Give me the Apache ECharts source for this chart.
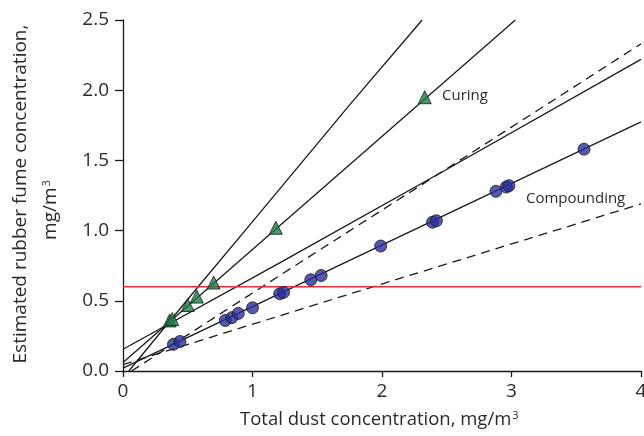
<!DOCTYPE html>
<html>
<head>
    <meta charset="utf-8">
    <title>Rubber fume vs dust</title>
    <script src="https://cdn.jsdelivr.net/npm/echarts@6/dist/echarts.min.js"></script>
    <style>
        html, body { margin: 0; padding: 0; background: #fff; }
        #main { width: 644px; height: 436px; }
    </style>
</head>
<body>
    <div id="main"></div>
    <script type="text/javascript">
        var curingX = [0.36, 0.38, 0.50, 0.57, 0.70, 1.18, 2.33];
        var curingY = [0.36, 0.37, 0.47, 0.53, 0.63, 1.02, 1.95];

        var compX = [0.39, 0.44, 0.79, 0.84, 0.89, 1.00, 1.21, 1.24, 1.45, 1.53, 1.99, 2.39, 2.42, 2.88, 2.96, 2.98, 3.56];
        var compY = [0.19, 0.21, 0.36, 0.38, 0.41, 0.45, 0.55, 0.56, 0.65, 0.68, 0.89, 1.06, 1.07, 1.28, 1.31, 1.32, 1.58];

        // fitted lines and limits, as [x, y] points along each one
        var curingFit = [[0, 0.06], [3.03, 2.5]];
        var curingSteep = [[0.045, 0], [0.58, 0.6], [1.01, 1.075], [1.75, 1.895], [2.31, 2.5]];
        var curingFlat = [[0, 0.155], [1.21, 0.77], [2.45, 1.41], [4, 2.22]];
        var compFit = [[0, 0.02], [4, 1.775]];
        var compUpper = [[0.066, 0], [1.21, 0.68], [2.6, 1.5], [4, 2.33]];
        var compLower = [[0, 0.046], [1.52, 0.482], [1.93, 0.6], [4, 1.19]];

        var limitValue = 0.6;
        var xTicks = [0, 1, 2, 3, 4];
        var yTicks = [0, 0.5, 1.0, 1.5, 2.0, 2.5];

        var font = '"Open Sans", "DejaVu Sans", sans-serif';
        var ink = '#2b2b2b';

        function pairs(xs, ys) {
            return xs.map(function (x, i) { return [x, ys[i]]; });
        }

        function fitLine(data, dashed) {
            return {
                type: 'line',
                data: data,
                showSymbol: false,
                silent: true,
                z: 2,
                lineStyle: { color: '#1a1a1a', width: 1.3, type: dashed ? [9, 6] : 'solid' }
            };
        }

        var myChart = echarts.init(document.getElementById('main'));

        var option = {
            animation: false,
            grid: { left: 123, right: 3, top: 20, bottom: 65, outerBoundsMode: 'none' },
            xAxis: {
                type: 'value',
                min: xTicks[0],
                max: xTicks[xTicks.length - 1],
                interval: 1,
                splitLine: { show: false },
                axisLine: { lineStyle: { color: '#1a1a1a', width: 1.3 } },
                axisTick: { length: 6, lineStyle: { color: '#1a1a1a', width: 1.3 } },
                axisLabel: { color: ink, fontFamily: font, fontSize: 19, margin: 11 }
            },
            yAxis: {
                type: 'value',
                min: yTicks[0],
                max: yTicks[yTicks.length - 1],
                interval: 0.5,
                splitLine: { show: false },
                axisLine: { show: true, lineStyle: { color: '#1a1a1a', width: 1.3 } },
                axisTick: { show: true, length: 8, lineStyle: { color: '#1a1a1a', width: 1.3 } },
                axisLabel: {
                    color: ink, fontFamily: font, fontSize: 19, margin: 14,
                    formatter: function (v) { return v.toFixed(1); }
                }
            },
            graphic: [
                {
                    type: 'text', left: 240, top: 410,
                    style: {
                        text: 'Total dust concentration, mg/m{s|3}',
                        fill: ink, font: '18.5px ' + font,
                        rich: { s: { fontSize: 11, fontFamily: font, fill: ink, verticalAlign: 'top', padding: [0, 0, 8, 1] } }
                    }
                },
                {
                    type: 'text', x: 21, y: 194, rotation: Math.PI / 2,
                    style: {
                        text: 'Estimated rubber fume concentration,',
                        fill: ink, font: '19px ' + font,
                        align: 'center', verticalAlign: 'middle'
                    }
                },
                {
                    type: 'text', x: 51, y: 210, rotation: Math.PI / 2,
                    style: {
                        text: 'mg/m{s|3}',
                        fill: ink, font: '19px ' + font,
                        align: 'center', verticalAlign: 'middle',
                        rich: { s: { fontSize: 11, fontFamily: font, fill: ink, verticalAlign: 'top', padding: [0, 0, 8, 1] } }
                    }
                }
            ],
            series: [
                fitLine(curingSteep, false),
                fitLine(curingFit, false),
                fitLine(curingFlat, false),
                fitLine(compUpper, true),
                fitLine(compFit, false),
                fitLine(compLower, true),
                {
                    type: 'line',
                    data: [[0, limitValue], [4, limitValue]],
                    showSymbol: false,
                    silent: true,
                    z: 2,
                    lineStyle: { color: '#f0303a', width: 1.5 }
                },
                {
                    name: 'Curing',
                    type: 'scatter',
                    data: pairs(curingX, curingY),
                    symbol: 'triangle',
                    symbolSize: 13,
                    z: 5,
                    itemStyle: { color: '#1e7a45', borderColor: '#1a1a1a', borderWidth: 1 }
                },
                {
                    name: 'Compounding',
                    type: 'scatter',
                    data: pairs(compX, compY),
                    symbol: 'circle',
                    symbolSize: 12,
                    z: 5,
                    itemStyle: { color: '#2a2e99', borderColor: '#1a1a1a', borderWidth: 1 }
                }
            ]
        };

        // series labels placed next to the data
        option.graphic.push({
            type: 'text', left: 442, top: 88,
            style: { text: 'Curing', fill: ink, font: '15px ' + font }
        });
        option.graphic.push({
            type: 'text', left: 526, top: 191,
            style: { text: 'Compounding', fill: ink, font: '15px ' + font }
        });

        myChart.setOption(option);
    </script>
</body>
</html>
